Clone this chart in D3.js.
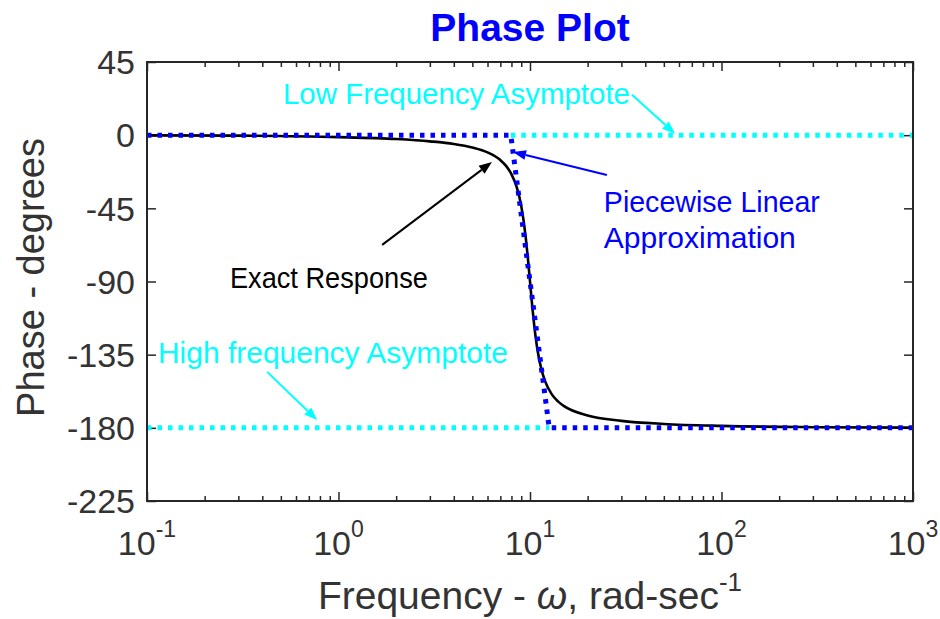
<!DOCTYPE html>
<html><head><meta charset="utf-8">
<script src="https://cdn.jsdelivr.net/npm/d3@7"></script>
<style>body{margin:0;background:#fff}svg{display:block}</style>
</head><body><svg id="chart" width="940" height="619"></svg>
<script>
// ---- data ----
const freqExact  = [0.1, 0.3, 1, 2, 3, 4, 5, 6, 7, 7.5, 8, 8.5, 9, 9.5, 9.75, 10, 10.25, 10.5, 11, 11.5, 12, 13, 14, 15, 20, 30, 50, 100, 300, 1000];
const phaseExact = [-0.1, -0.3, -1.2, -2.4, -3.8, -5.4, -7.6, -10.6, -15.3, -18.9, -24.0, -31.5, -43.5, -62.8, -75.8, -90, -103.9, -116.0, -133.7, -144.5, -151.4, -159.4, -163.7, -166.5, -172.4, -175.7, -177.6, -178.8, -179.6, -179.9];
const freqApprox  = [0.1, 7.94, 12.6, 1000];
const phaseApprox = [0, 0, -180, -180];
const freqLowAsym  = [7.94, 1000];
const phaseLowAsym = [0, 0];
const freqHighAsym  = [0.1, 12.6];
const phaseHighAsym = [-180, -180];
const yTickValues = [45, 0, -45, -90, -135, -180, -225];
const xTickExponents = [-1, 0, 1, 2, 3];
const titleText = "Phase Plot";
const yLabelText = "Phase - degrees";

// annotations: text and arrows in data coordinates [freq, phase]
const annoTexts = [
  {lines: ["Low Frequency Asymptote"], at: [0.513, 19.2], color: "#00ffff", widths: [347]},
  {lines: ["Piecewise Linear", "Approximation"], at: [24.3, -47.3], color: "#0000ff", widths: [216, 192]},
  {lines: ["Exact Response"], at: [0.271, -94], color: "#000000", widths: [198]},
  {lines: ["High frequency Asymptote"], at: [0.114, -140.1], color: "#00ffff", widths: [350]}
];
const annoArrows = [
  {from: [34.1, 24.9], to: [57.2, 0.8], color: "#00ffff"},
  {from: [25.2, -24.5], to: [8.15, -10.3], color: "#0000ff"},
  {from: [1.69, -67.5], to: [6.33, -16.5], color: "#000000"},
  {from: [0.424, -145.6], to: [0.773, -175.2], color: "#00ffff"}
];

// ---- layout ----
const W = 940, H = 619;
const plot = {left: 147, right: 913, top: 62, bottom: 501};
const axisColor = "#262626";
const svg = d3.select("#chart");

const x = d3.scaleLog().domain([0.1, 1000]).range([plot.left, plot.right]);
const y = d3.scaleLinear().domain([-225, 45]).range([plot.bottom, plot.top]);

// ---- ticks ----
const majorX = xTickExponents.map(e => Math.pow(10, e));
const minorX = [];
for (let e = -1; e < 3; e++) for (let k = 2; k <= 9; k++) minorX.push(k * Math.pow(10, e));

function styleAxis(g) {
  g.select(".domain").remove();
  g.selectAll("line").attr("stroke", axisColor).attr("stroke-width", 1.5);
  g.selectAll("text").remove();
}
svg.append("g").attr("transform", `translate(0,${plot.bottom})`)
  .call(d3.axisBottom(x).tickValues(majorX).tickSize(-9).tickFormat("")).call(styleAxis);
svg.append("g").attr("transform", `translate(0,${plot.bottom})`)
  .call(d3.axisBottom(x).tickValues(minorX).tickSize(-5).tickFormat("")).call(styleAxis);
svg.append("g").attr("transform", `translate(0,${plot.top})`)
  .call(d3.axisTop(x).tickValues(majorX).tickSize(-9).tickFormat("")).call(styleAxis);
svg.append("g").attr("transform", `translate(0,${plot.top})`)
  .call(d3.axisTop(x).tickValues(minorX).tickSize(-5).tickFormat("")).call(styleAxis);
svg.append("g").attr("transform", `translate(${plot.left},0)`)
  .call(d3.axisLeft(y).tickValues(yTickValues).tickSize(-9).tickFormat("")).call(styleAxis);
svg.append("g").attr("transform", `translate(${plot.right},0)`)
  .call(d3.axisRight(y).tickValues(yTickValues).tickSize(-9).tickFormat("")).call(styleAxis);

// y tick labels
svg.append("g").selectAll("text").data(yTickValues).join("text")
  .attr("x", plot.left - 12).attr("y", d => y(d)).attr("dy", "0.36em")
  .attr("text-anchor", "end")
  .attr("font-family", "Liberation Sans, Arial, sans-serif").attr("font-size", 34)
  .attr("fill", "#333").text(d => d);

// x tick labels (10^e)
const xl = svg.append("g").selectAll("text").data(xTickExponents).join("text")
  .attr("x", e => x(Math.pow(10, e))).attr("y", 555)
  .attr("text-anchor", "middle")
  .attr("font-family", "Liberation Sans, Arial, sans-serif").attr("font-size", 34)
  .attr("fill", "#333");
xl.append("tspan").text("10");
xl.append("tspan").attr("dy", -18).attr("font-size", 23).text(e => e);

// ---- clip ----
svg.append("clipPath").attr("id", "clip").append("rect")
  .attr("x", plot.left).attr("y", plot.top)
  .attr("width", plot.right - plot.left).attr("height", plot.bottom - plot.top);

const line = d3.line().x(d => x(d[0])).y(d => y(d[1]));
const curveLine = d3.line().x(d => x(d[0])).y(d => y(d[1])).curve(d3.curveMonotoneX);
const gData = svg.append("g").attr("clip-path", "url(#clip)");

gData.append("path").datum(freqExact.map((f, i) => [f, phaseExact[i]]))
  .attr("d", curveLine).attr("fill", "none").attr("stroke", "#000").attr("stroke-width", 2.6);

const dotted = {w: 5, dash: "4.5,6"};
gData.append("path").datum(freqApprox.map((f, i) => [f, phaseApprox[i]]))
  .attr("d", line).attr("fill", "none").attr("stroke", "#0000ff")
  .attr("stroke-width", dotted.w).attr("stroke-dasharray", dotted.dash);

gData.append("path").datum(freqLowAsym.map((f, i) => [f, phaseLowAsym[i]]))
  .attr("d", line).attr("fill", "none").attr("stroke", "#00ffff")
  .attr("stroke-width", dotted.w).attr("stroke-dasharray", dotted.dash);

gData.append("path").datum(freqHighAsym.map((f, i) => [f, phaseHighAsym[i]]))
  .attr("d", line).attr("fill", "none").attr("stroke", "#00ffff")
  .attr("stroke-width", dotted.w).attr("stroke-dasharray", dotted.dash);

// ---- box ----
svg.append("rect").attr("x", plot.left).attr("y", plot.top)
  .attr("width", plot.right - plot.left).attr("height", plot.bottom - plot.top)
  .attr("fill", "none").attr("stroke", axisColor).attr("stroke-width", 2);

// ---- annotations ----
const annoLineGap = 36;
annoTexts.forEach(a => {
  a.lines.forEach((t, i) => {
    svg.append("text")
      .attr("x", x(a.at[0])).attr("y", y(a.at[1]) + i * annoLineGap)
      .attr("font-family", "Liberation Sans, Arial, sans-serif").attr("font-size", 29)
      .attr("fill", a.color)
      .attr("textLength", a.widths[i]).attr("lengthAdjust", "spacingAndGlyphs")
      .text(t);
  });
});
annoArrows.forEach(a => {
  const x1 = x(a.from[0]), y1 = y(a.from[1]), x2 = x(a.to[0]), y2 = y(a.to[1]);
  const ang = Math.atan2(y2 - y1, x2 - x1);
  const L = 13, Wd = 5;
  const bx = x2 - L * Math.cos(ang), by = y2 - L * Math.sin(ang);
  svg.append("line").attr("x1", x1).attr("y1", y1).attr("x2", bx).attr("y2", by)
    .attr("stroke", a.color).attr("stroke-width", 2);
  const px = -Math.sin(ang) * Wd, py = Math.cos(ang) * Wd;
  svg.append("path")
    .attr("d", `M${x2},${y2}L${bx + px},${by + py}L${bx - px},${by - py}Z`)
    .attr("fill", a.color);
});

// ---- titles ----
svg.append("text").attr("x", (plot.left + plot.right) / 2).attr("y", 41)
  .attr("text-anchor", "middle").attr("font-family", "Liberation Sans, Arial, sans-serif")
  .attr("font-size", 39).attr("font-weight", "bold").attr("fill", "#0000ff").text(titleText);

svg.append("text").attr("transform", `translate(44,${(plot.top + plot.bottom) / 2 - 4}) rotate(-90)`)
  .attr("text-anchor", "middle").attr("font-family", "Liberation Sans, Arial, sans-serif")
  .attr("font-size", 38).attr("fill", "#333").text(yLabelText);

const xlab = svg.append("text").attr("x", (plot.left + plot.right) / 2).attr("y", 609)
  .attr("text-anchor", "middle").attr("font-family", "Liberation Sans, Arial, sans-serif")
  .attr("font-size", 39).attr("fill", "#333");
xlab.append("tspan").text("Frequency - ");
xlab.append("tspan").attr("font-style", "italic").text("ω");
xlab.append("tspan").text(", rad-sec");
xlab.append("tspan").attr("dy", -18).attr("font-size", 26).text("-1");
</script></body></html>
